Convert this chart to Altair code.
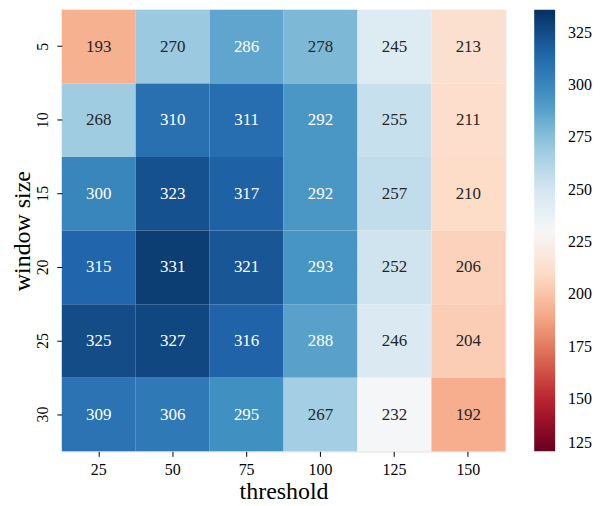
import altair as alt
import pandas as pd

thresholds = [25, 50, 75, 100, 125, 150]
window_sizes = [5, 10, 15, 20, 25, 30]
values = [
    [193, 270, 286, 278, 245, 213],
    [268, 310, 311, 292, 255, 211],
    [300, 323, 317, 292, 257, 210],
    [315, 331, 321, 293, 252, 206],
    [325, 327, 316, 288, 246, 204],
    [309, 306, 295, 267, 232, 192],
]
legend_ticks = [125, 150, 175, 200, 225, 250, 275, 300, 325]

rows = []
for i, w in enumerate(window_sizes):
    for j, t in enumerate(thresholds):
        rows.append({"window size": w, "threshold": t, "value": values[i][j]})
df = pd.DataFrame(rows)

vmin, vmax = 125, 336
rdbu = ["#67001f", "#b2182b", "#d6604d", "#f4a582", "#fddbc7", "#f7f7f7",
        "#d1e5f0", "#92c5de", "#4393c3", "#2166ac", "#053061"]
stops = [vmin + (vmax - vmin) * k / 10 for k in range(11)]
cscale = alt.Scale(domain=stops, range=rdbu, interpolate="rgb")

FONT = "Liberation Serif"

base = alt.Chart(df).encode(
    x=alt.X("threshold:O", sort=thresholds,
            scale=alt.Scale(paddingInner=0, paddingOuter=0),
            axis=alt.Axis(title="threshold", labelAngle=0, domain=False,
                          tickSize=5, tickColor="black", labelFontSize=16,
                          titleFontSize=24, titleFontWeight="normal",
                          labelColor="black", titleColor="black", labelPadding=5,
                          titlePadding=2)),
    y=alt.Y("window size:O", sort=window_sizes,
            scale=alt.Scale(paddingInner=0, paddingOuter=0),
            axis=alt.Axis(title="window size", labelAngle=270, labelAlign="center",
                          labelBaseline="bottom", domain=False, tickSize=5,
                          tickColor="black", labelFontSize=16, titleFontSize=24,
                          titleFontWeight="normal", labelColor="black",
                          titleColor="black", labelPadding=6, titlePadding=0)),
)

rects = base.mark_rect().encode(
    color=alt.Color("value:Q", scale=cscale,
                    legend=alt.Legend(title=None, values=legend_ticks,
                                      gradientLength=443, gradientThickness=21,
                                      labelFontSize=16, labelColor="black",
                                      labelBaseline="middle", offset=29,
                                      gradientStrokeWidth=0, labelOffset=13,
                                      padding=0)),
)

texts = base.mark_text(fontSize=17, font=FONT).encode(
    text="value:Q",
    color=alt.condition(alt.datum.value >= 284, alt.value("white"), alt.value("#262626")),
)

chart = (rects + texts).properties(
    width=445, height=443,
    autosize=alt.AutoSizeParams(type="none"),
    padding={"left": 54, "top": 1, "right": 90, "bottom": 60},
).configure_view(strokeWidth=0).configure(font=FONT).configure_axis(
    labelFont=FONT, titleFont=FONT
).configure_legend(labelFont=FONT)

chart.save("out.html", embed_options={"renderer": "svg", "actions": False})
